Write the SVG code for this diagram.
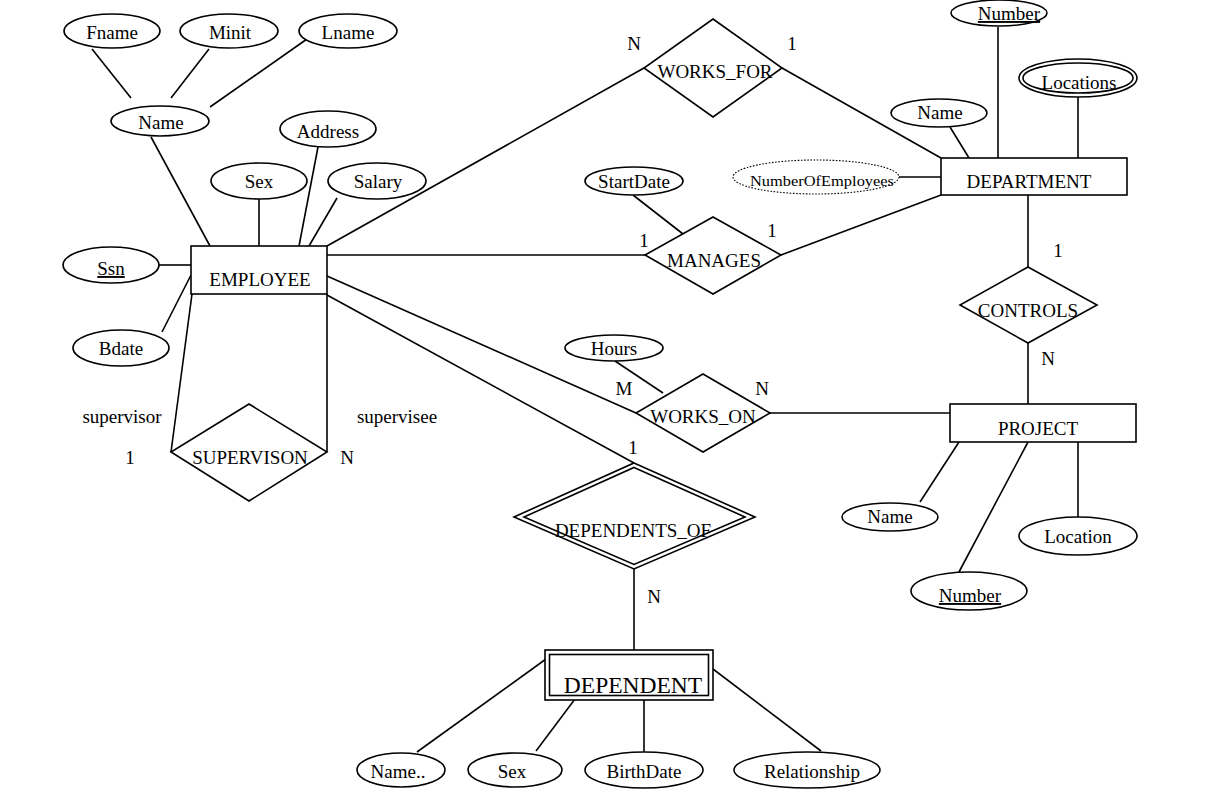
<svg xmlns="http://www.w3.org/2000/svg" width="1217" height="795" viewBox="0 0 1217 795">
<style>
  .s { fill: none; stroke: #000; stroke-width: 1.6; }
  .f { fill: #fff; stroke: #000; stroke-width: 1.6; }
  .d { fill: #fff; stroke: #000; stroke-width: 1.1; stroke-dasharray: 1.6 1.6; }
  text { font-family: "Liberation Serif", "Times New Roman", serif; font-size: 19px; fill: #000; text-anchor: middle; }
  .u { text-decoration: underline; }
  .sm { font-size: 15.5px; }
  .lg { font-size: 23.5px; }
</style>
<rect width="1217" height="795" fill="#fff"/>
<g id="connectors" class="s">
  <line x1="92" y1="49" x2="131" y2="98"/>
  <line x1="209" y1="49" x2="171" y2="98"/>
  <line x1="307" y1="39" x2="210" y2="107"/>
  <line x1="151" y1="137" x2="210" y2="246"/>
  <line x1="259" y1="199" x2="259" y2="246"/>
  <line x1="318" y1="147" x2="299" y2="246"/>
  <line x1="337" y1="198" x2="309" y2="246"/>
  <line x1="159" y1="265" x2="191" y2="265"/>
  <line x1="162" y1="332" x2="191" y2="275"/>
  <line x1="192" y1="294" x2="171" y2="452"/>
  <line x1="327" y1="294" x2="327" y2="452"/>
  <line x1="327" y1="246" x2="644" y2="68"/>
  <line x1="782" y1="68" x2="941" y2="158"/>
  <line x1="327" y1="255" x2="645" y2="255"/>
  <line x1="781" y1="255" x2="941" y2="195"/>
  <line x1="633" y1="195" x2="683" y2="234"/>
  <line x1="327" y1="276" x2="636" y2="413"/>
  <line x1="770" y1="413" x2="950" y2="413"/>
  <line x1="615" y1="361" x2="663" y2="393"/>
  <line x1="327" y1="295" x2="634" y2="463"/>
  <line x1="634" y1="569" x2="634" y2="650"/>
  <line x1="998" y1="27" x2="998" y2="158"/>
  <line x1="1078" y1="97" x2="1078" y2="158"/>
  <line x1="950" y1="127" x2="969" y2="158"/>
  <line x1="899" y1="177" x2="941" y2="177"/>
  <line x1="1028" y1="195" x2="1028" y2="267"/>
  <line x1="1028" y1="343" x2="1028" y2="404"/>
  <line x1="920" y1="502" x2="959" y2="442"/>
  <line x1="959" y1="572" x2="1028" y2="442"/>
  <line x1="1078" y1="442" x2="1078" y2="517"/>
  <line x1="417" y1="752" x2="546" y2="659"/>
  <line x1="536" y1="751" x2="575" y2="699"/>
  <line x1="644" y1="699" x2="644" y2="752"/>
  <line x1="713" y1="669" x2="821" y2="751"/>
</g>
<g id="label-works-for-n"><text x="634" y="50">N</text></g>
<g id="label-works-for-1"><text x="792" y="50">1</text></g>
<g id="label-manages-1a"><text x="644" y="247">1</text></g>
<g id="label-manages-1b"><text x="772" y="237">1</text></g>
<g id="label-works-on-m"><text x="624" y="395">M</text></g>
<g id="label-works-on-n"><text x="762" y="395">N</text></g>
<g id="label-dep-1"><text x="633" y="454">1</text></g>
<g id="label-dep-n"><text x="654" y="603">N</text></g>
<g id="label-controls-1"><text x="1058" y="257">1</text></g>
<g id="label-controls-n"><text x="1048" y="365">N</text></g>
<g id="label-supervisor"><text x="122" y="423">supervisor</text></g>
<g id="label-supervisee"><text x="397" y="423">supervisee</text></g>
<g id="label-sup-1"><text x="130" y="464">1</text></g>
<g id="label-sup-n"><text x="347" y="464">N</text></g>

<g id="attr-fname"><ellipse class="f" cx="112" cy="31" rx="48" ry="17"/><text x="112" y="39">Fname</text></g>
<g id="attr-minit"><ellipse class="f" cx="229" cy="31" rx="49" ry="17"/><text x="230" y="39">Minit</text></g>
<g id="attr-lname"><ellipse class="f" cx="348" cy="31" rx="49" ry="17"/><text x="348" y="39">Lname</text></g>
<g id="attr-name"><ellipse class="f" cx="160" cy="121" rx="49" ry="15"/><text x="161" y="129">Name</text></g>
<g id="attr-address"><ellipse class="f" cx="328" cy="129" rx="48" ry="18"/><text x="328" y="138">Address</text></g>
<g id="attr-sex"><ellipse class="f" cx="259" cy="181" rx="48" ry="18"/><text x="259" y="188">Sex</text></g>
<g id="attr-salary"><ellipse class="f" cx="377" cy="181" rx="49" ry="18"/><text x="378" y="188">Salary</text></g>
<g id="attr-ssn"><ellipse class="f" cx="111" cy="265" rx="48" ry="18"/><text class="u" x="111" y="275">Ssn</text></g>
<g id="attr-bdate"><ellipse class="f" cx="121" cy="348" rx="48" ry="18"/><text x="121" y="355">Bdate</text></g>

<g id="employee"><rect class="f" x="191" y="246" width="136" height="48"/><text x="260" y="286">EMPLOYEE</text></g>

<g id="supervision"><polygon class="f" points="249,404 327,452 249,501 171,452"/><text x="250" y="464">SUPERVISON</text></g>

<g id="works-for"><polygon class="f" points="713,19 782,68 713,117 644,68"/><text x="715" y="78">WORKS_FOR</text></g>

<g id="manages"><polygon class="f" points="713,217 781,255 713,294 645,255"/><text x="714" y="267">MANAGES</text></g>
<g id="attr-startdate"><ellipse class="f" cx="634" cy="181" rx="49" ry="14"/><text x="634" y="188">StartDate</text></g>

<g id="department"><rect class="f" x="941" y="158" width="186" height="37"/><text x="1029" y="188">DEPARTMENT</text></g>
<g id="attr-dnumber"><ellipse class="f" cx="999" cy="13" rx="48" ry="13"/><text class="u" x="1009" y="20">Number</text></g>
<g id="attr-locations"><ellipse class="f" cx="1078" cy="78" rx="59" ry="19"/><ellipse class="s" cx="1078" cy="78" rx="55" ry="15"/><text x="1079" y="89">Locations</text></g>
<g id="attr-dname"><ellipse class="f" cx="939" cy="113" rx="48" ry="14"/><text x="940" y="119">Name</text></g>
<g id="attr-numemp"><ellipse class="d" cx="816" cy="177" rx="83" ry="17"/><text class="sm" x="822" y="186" textLength="144" lengthAdjust="spacingAndGlyphs">NumberOfEmployees</text></g>

<g id="controls"><polygon class="f" points="1028,267 1097,305 1028,343 960,305"/><text x="1028" y="317">CONTROLS</text></g>

<g id="works-on"><polygon class="f" points="703,374 770,413 703,452 636,413"/><text x="703" y="423">WORKS_ON</text></g>
<g id="attr-hours"><ellipse class="f" cx="614" cy="348" rx="49" ry="13"/><text x="614" y="355">Hours</text></g>

<g id="project"><rect class="f" x="950" y="404" width="186" height="38"/><text x="1038" y="435">PROJECT</text></g>
<g id="attr-pname"><ellipse class="f" cx="890" cy="517" rx="48" ry="14"/><text x="890" y="523">Name</text></g>
<g id="attr-plocation"><ellipse class="f" cx="1078" cy="536" rx="59" ry="19"/><text x="1078" y="543">Location</text></g>
<g id="attr-pnumber"><ellipse class="f" cx="969" cy="591" rx="58" ry="19"/><text class="u" x="970" y="602">Number</text></g>

<g id="dependents-of"><polygon class="f" points="634,463 755,517 634,569 514,517"/><polygon class="s" points="634,467.5 745,517 634,564.5 524,517"/><text x="633" y="537">DEPENDENTS_OF</text></g>

<g id="dependent"><rect class="f" x="545" y="650" width="168" height="50"/><rect class="s" x="549.5" y="654.5" width="159" height="41"/><text class="lg" x="633" y="693">DEPENDENT</text></g>
<g id="attr-depname"><ellipse class="f" cx="401" cy="770" rx="44" ry="17"/><text x="398" y="778">Name..</text></g>
<g id="attr-depsex"><ellipse class="f" cx="515" cy="770" rx="47" ry="17"/><text x="512" y="778">Sex</text></g>
<g id="attr-birthdate"><ellipse class="f" cx="644" cy="770" rx="59" ry="18"/><text x="644" y="778">BirthDate</text></g>
<g id="attr-relationship"><ellipse class="f" cx="807" cy="770" rx="73" ry="18"/><text x="812" y="778">Relationship</text></g>
</svg>
